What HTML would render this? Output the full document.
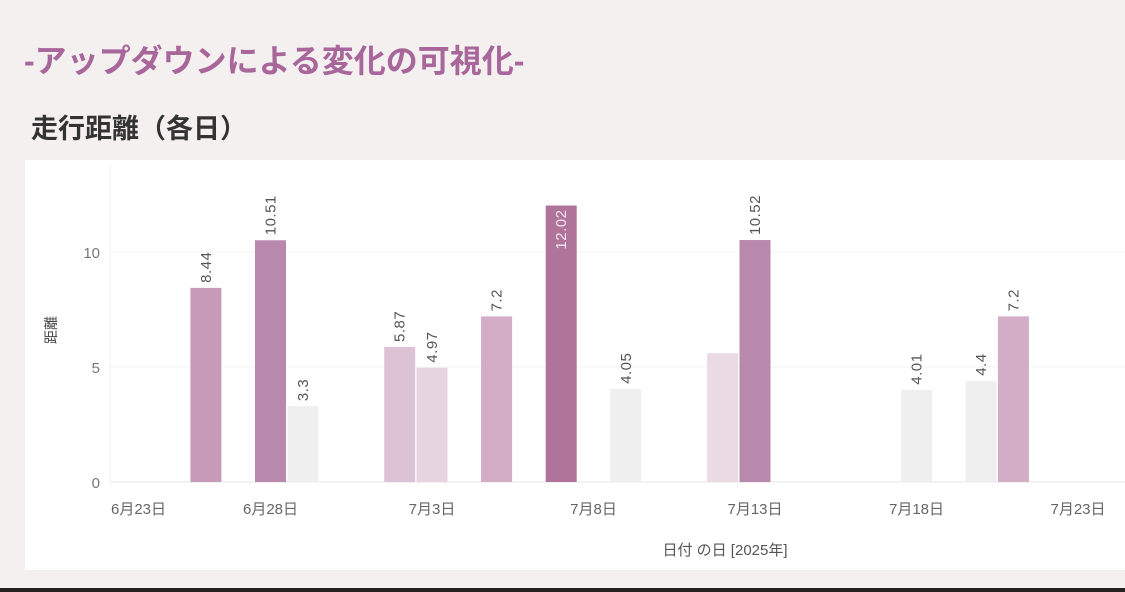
<!DOCTYPE html>
<html><head><meta charset="utf-8">
<style>
body{margin:0;width:1125px;height:592px;background:#f4f0f0;overflow:hidden;position:relative;font-family:"Liberation Sans","Noto Sans CJK JP",sans-serif;}
#title{position:absolute;left:24px;top:36px;font-size:32px;font-weight:bold;color:#a8669a;white-space:nowrap;letter-spacing:0px;}
#sub{position:absolute;left:31px;top:107px;font-size:27px;font-weight:bold;color:#333;white-space:nowrap;}
#panel{position:absolute;left:25px;top:160px;width:1100px;height:410px;background:#fff;}
#bottom{position:absolute;left:0;top:588px;width:1125px;height:4px;background:#222;}
</style></head><body>
<div id="title">-アップダウンによる変化の可視化-</div>
<div id="sub">走行距離（各日）</div>
<div id="panel"></div>
<div id="bottom"></div>
<svg id="chart" width="1125" height="592" style="position:absolute;left:0;top:0">
</svg>
<script>
const dates=["6/26","6/28","6/29","7/2","7/3","7/5","7/7","7/9","7/12","7/13","7/18","7/20","7/21"];
const values=[8.44,10.51,3.3,5.87,4.97,7.2,12.02,4.05,5.6,10.52,4.01,4.4,7.2];
const showLabel=[true,true,true,true,true,true,true,true,false,true,true,true,true];
const colors=["#c59bb8","#b988ad","#efefef","#dcc2d4","#e6d5e0","#d3adc6","#b07399","#efefef","#e9dae4","#b988ad","#efefef","#efefef","#d3adc6"];
const xTicks=["6/23","6/28","7/3","7/8","7/13","7/18","7/23"];
const yTicks=[0,5,10];

const svg=document.getElementById('chart');
const NS="http://www.w3.org/2000/svg";
function dayIndex(s){const [m,d]=s.split('/').map(Number);return (m===6?d:30+d);}
const ref=dayIndex("7/3");
function xScale(s){return 432+(dayIndex(s)-ref)*32.3;}
function yScale(v){return 482-v*23;}
function mk(tag,attrs){const e=document.createElementNS(NS,tag);for(const k in attrs)e.setAttribute(k,attrs[k]);svg.appendChild(e);return e;}

yTicks.forEach(v=>{
  const g=mk('line',{x1:110,x2:1125,y1:yScale(v),y2:yScale(v),stroke:v===0?'#e6e6e6':'#f3f3f3','stroke-width':1});
  
  
  const t=mk('text',{x:100,y:yScale(v)+6,'text-anchor':'end','font-size':15,fill:'#777'});
  t.textContent=v;
  
  
});
const ax=mk('line',{x1:110,x2:110,y1:165,y2:482,stroke:'#f0f0f0'});



xTicks.forEach((s,i)=>{
  const x=xScale(s);
  const [m,d]=s.split('/');
  const t=mk('text',{x:i===0?111:x,y:514,'text-anchor':i===0?'start':'middle','font-size':15,fill:'#666'});
  t.textContent=m+'月'+d+'日';
  
  
});

dates.forEach((s,i)=>{
  const cx=xScale(s), v=values[i];
  const r=mk('rect',{x:cx-15.5,y:yScale(v),width:31,height:482-yScale(v),fill:colors[i]});
  
  
  if(showLabel[i]){
    const inside=v>11.5;
    const ty=inside?yScale(v)+4:yScale(v)-5;
    const t=mk('text',{x:cx+5,y:ty,'text-anchor':inside?'end':'start','font-size':15,fill:inside?'#f4e6ef':'#555',transform:`rotate(-90 ${cx+5} ${ty})`,'letter-spacing':'0.5'});
    t.textContent=v;
    
    
  }
});

const yt=mk('text',{x:56,y:330,'text-anchor':'middle','font-size':14,fill:'#444',transform:'rotate(-90 56 330)'});
yt.textContent='距離';


const xt=mk('text',{x:725,y:555,'text-anchor':'middle','font-size':15,fill:'#555'});
xt.textContent='日付 の日 [2025年]';


</script>
</body></html>
